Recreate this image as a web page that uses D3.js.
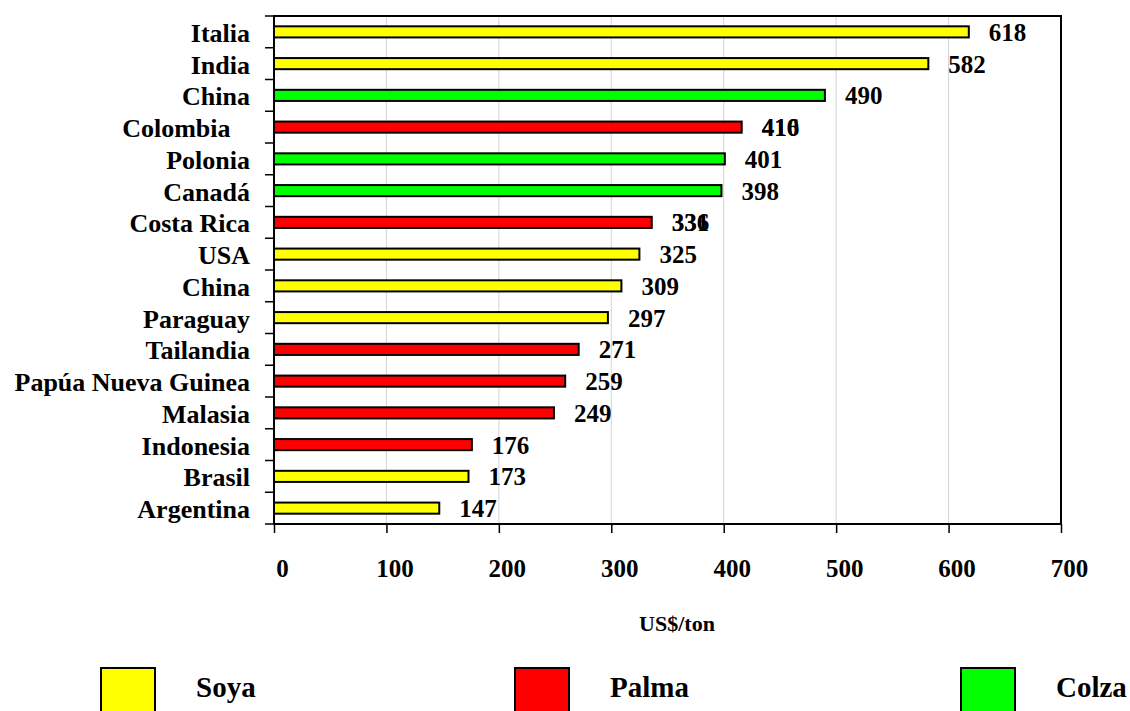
<!DOCTYPE html>
<html>
<head>
<meta charset="utf-8">
<script src="https://cdn.jsdelivr.net/npm/d3@7"></script>
<style>
  html, body { margin: 0; padding: 0; background: #fff; }
  svg { display: block; }
  text { font-family: "Liberation Serif", "Times New Roman", serif; font-weight: bold; fill: #000; }
</style>
</head>
<body>
<svg id="chart" width="1130" height="711"></svg>
<script>
// Vegetable oil production cost by country (US$/ton)
const categories = ["Italia", "India", "China", "Colombia   ", "Polonia", "Canadá", "Costa Rica", "USA",
  "China", "Paraguay", "Tailandia", "Papúa Nueva Guinea", "Malasia", "Indonesia", "Brasil", "Argentina"];
const values = [618, 582, 490, 416, 401, 398, 336, 325, 309, 297, 271, 259, 249, 176, 173, 147];
const oils = ["Soya", "Soya", "Colza", "Palma", "Colza", "Colza", "Palma", "Soya",
  "Soya", "Soya", "Palma", "Palma", "Palma", "Palma", "Soya", "Soya"];
// Older value labels left underneath the current ones
const oldLabelRows = [3, 6];
const oldLabelTexts = ["410", "331"];
const xTicks = [0, 100, 200, 300, 400, 500, 600, 700];
const legendItems = ["Soya", "Palma", "Colza"];
const oilColors = { Soya: "#ffff00", Palma: "#ff0000", Colza: "#00ff00" };

const svg = d3.select("#chart");
const plot = { left: 274, right: 1061, top: 16, bottom: 524 };

const x = d3.scaleLinear().domain([0, 700]).range([plot.left, plot.right]);
const y = d3.scaleBand().domain(d3.range(categories.length)).range([plot.top, plot.bottom]).paddingInner(0.65).paddingOuter(0.325);
const band = d3.scaleBand().domain(d3.range(categories.length)).range([plot.top, plot.bottom]);

// vertical gridlines
svg.append("g").selectAll("line").data(xTicks.slice(1, -1)).join("line")
  .attr("x1", d => x(d)).attr("x2", d => x(d))
  .attr("y1", plot.top).attr("y2", plot.bottom)
  .attr("stroke", "#d4d4d4").attr("stroke-width", 1);

// bars
svg.append("g").selectAll("rect").data(values).join("rect")
  .attr("x", x(0))
  .attr("y", (d, i) => y(i))
  .attr("width", d => x(d) - x(0))
  .attr("height", y.bandwidth())
  .attr("fill", (d, i) => oilColors[oils[i]])
  .attr("stroke", "#000").attr("stroke-width", 2);

// frame
svg.append("rect")
  .attr("x", plot.left).attr("y", plot.top)
  .attr("width", plot.right - plot.left).attr("height", plot.bottom - plot.top)
  .attr("fill", "none").attr("stroke", "#000").attr("stroke-width", 2);

// y axis ticks at category boundaries
const yEdges = d3.range(categories.length + 1).map(i => i === categories.length ? plot.bottom : band(i));
svg.append("g").selectAll("line").data(yEdges).join("line")
  .attr("x1", plot.left - 9).attr("x2", plot.left)
  .attr("y1", d => d).attr("y2", d => d)
  .attr("stroke", "#000").attr("stroke-width", 1.5);

// category labels
svg.append("g").selectAll("text").data(categories).join("text")
  .attr("x", plot.left - 24)
  .attr("y", (d, i) => band(i) + band.bandwidth() / 2)
  .attr("dy", "0.38em")
  .attr("text-anchor", "end")
  .style("white-space", "pre")
  .attr("font-size", 26)
  .text(d => d);

// x axis ticks and labels
const xAxis = d3.axisBottom(x).tickValues(xTicks).tickSize(9).tickSizeOuter(0).tickFormat(d3.format("d"));
const gx = svg.append("g").attr("transform", `translate(0,${plot.bottom})`).call(xAxis);
gx.select(".domain").remove();
gx.selectAll(".tick line").attr("stroke", "#000").attr("stroke-width", 1.5);
gx.selectAll(".tick text")
  .attr("x", 8).attr("y", 53).attr("dy", 0)
  .attr("font-size", 25)
  .style("font-family", "'Liberation Serif', 'Times New Roman', serif")
  .style("font-weight", "bold")
  .attr("fill", "#000");

// value labels (older labels first, current ones on top)
svg.append("g").selectAll("text").data(oldLabelRows).join("text")
  .attr("x", r => x(values[r]) + 20)
  .attr("y", r => band(r) + band.bandwidth() / 2)
  .attr("dy", "0.36em")
  .attr("font-size", 25)
  .text((r, k) => oldLabelTexts[k]);

svg.append("g").selectAll("text").data(values).join("text")
  .attr("x", d => x(d) + 20)
  .attr("y", (d, i) => band(i) + band.bandwidth() / 2)
  .attr("dy", "0.36em")
  .attr("font-size", 25)
  .text(d => d);

// axis title
svg.append("text")
  .attr("x", 677).attr("y", 631)
  .attr("text-anchor", "middle")
  .attr("font-size", 22)
  .text("US$/ton");

// legend
const legendX = [101, 515, 961];
const lg = svg.append("g").selectAll("g").data(legendItems).join("g")
  .attr("transform", (d, i) => `translate(${legendX[i]},668)`);
lg.append("rect")
  .attr("width", 54).attr("height", 54)
  .attr("fill", d => oilColors[d])
  .attr("stroke", "#000").attr("stroke-width", 2);
lg.append("text")
  .attr("x", 95).attr("y", 29)
  .attr("font-size", 29)
  .text(d => d);
</script>
</body>
</html>
